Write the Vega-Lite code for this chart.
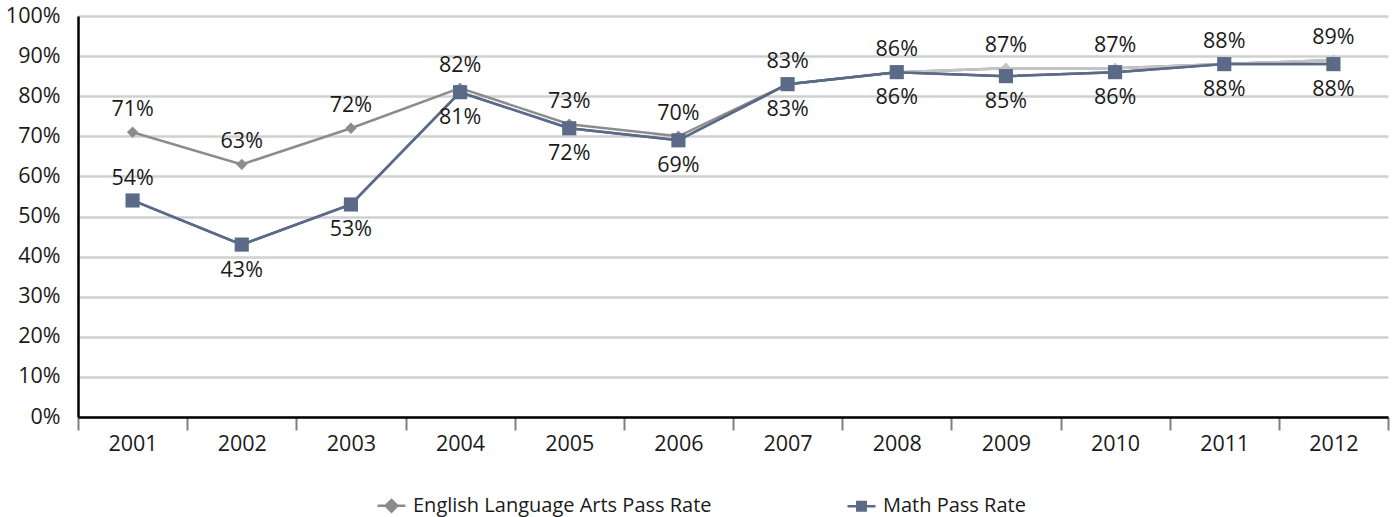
{
  "$schema": "https://vega.github.io/schema/vega-lite/v6.json",
  "width": 1310,
  "height": 401,
  "autosize": {"type": "none"},
  "padding": {"left": 78, "top": 16, "right": 10, "bottom": 100},
  "background": "white",
  "config": {
    "view": {"stroke": null},
    "font": "Open Sans",
    "axis": {"labelFont": "Open Sans", "labelFontSize": 21.5, "labelColor": "#1a1a1a", "title": null}
  },
  "data": {
    "values": [
      {"year": "2001", "series": "English Language Arts Pass Rate", "rate": 0.71},
      {"year": "2002", "series": "English Language Arts Pass Rate", "rate": 0.63},
      {"year": "2003", "series": "English Language Arts Pass Rate", "rate": 0.72},
      {"year": "2004", "series": "English Language Arts Pass Rate", "rate": 0.82},
      {"year": "2005", "series": "English Language Arts Pass Rate", "rate": 0.73},
      {"year": "2006", "series": "English Language Arts Pass Rate", "rate": 0.70},
      {"year": "2007", "series": "English Language Arts Pass Rate", "rate": 0.83},
      {"year": "2008", "series": "English Language Arts Pass Rate", "rate": 0.86},
      {"year": "2009", "series": "English Language Arts Pass Rate", "rate": 0.87},
      {"year": "2010", "series": "English Language Arts Pass Rate", "rate": 0.87},
      {"year": "2011", "series": "English Language Arts Pass Rate", "rate": 0.88},
      {"year": "2012", "series": "English Language Arts Pass Rate", "rate": 0.89},
      {"year": "2001", "series": "Math Pass Rate", "rate": 0.54},
      {"year": "2002", "series": "Math Pass Rate", "rate": 0.43},
      {"year": "2003", "series": "Math Pass Rate", "rate": 0.53},
      {"year": "2004", "series": "Math Pass Rate", "rate": 0.81},
      {"year": "2005", "series": "Math Pass Rate", "rate": 0.72},
      {"year": "2006", "series": "Math Pass Rate", "rate": 0.69},
      {"year": "2007", "series": "Math Pass Rate", "rate": 0.83},
      {"year": "2008", "series": "Math Pass Rate", "rate": 0.86},
      {"year": "2009", "series": "Math Pass Rate", "rate": 0.85},
      {"year": "2010", "series": "Math Pass Rate", "rate": 0.86},
      {"year": "2011", "series": "Math Pass Rate", "rate": 0.88},
      {"year": "2012", "series": "Math Pass Rate", "rate": 0.88}
    ]
  },
  "encoding": {
    "x": {
      "field": "year", "type": "ordinal",
      "scale": {"paddingInner": 0, "paddingOuter": 0},
      "axis": {
        "labelAngle": 0, "tickBand": "extent", "domainColor": "#000000", "domainWidth": 2.5,
        "tickColor": "#7f7f7f", "tickWidth": 2, "tickSize": 13, "labelPadding": 3, "grid": false
      }
    },
    "y": {
      "field": "rate", "type": "quantitative",
      "scale": {"domain": [0, 1], "nice": false},
      "axis": {
        "format": ".0%", "values": [0, 0.1, 0.2, 0.3, 0.4, 0.5, 0.6, 0.7, 0.8, 0.9, 1],
        "labelOverlap": false,
        "grid": true, "gridColor": "#d0d0d0", "gridWidth": 2.5, "ticks": false,
        "domainColor": "#000000", "domainWidth": 2.5, "labelPadding": 18
      }
    }
  },
  "layer": [
    {
      "mark": {"type": "line", "strokeWidth": 2.5},
      "encoding": {
        "color": {
          "field": "series", "type": "nominal",
          "scale": {"domain": ["English Language Arts Pass Rate", "Math Pass Rate"], "range": ["#8c8c8c", "#5a6a87"]},
          "legend": {
            "title": null, "orient": "none", "legendX": 298, "legendY": 474, "direction": "horizontal", "columns": 2,
            "columnPadding": 130, "labelFont": "Open Sans", "labelFontSize": 20, "labelColor": "#1a1a1a", "labelLimit": 600,
            "symbolSize": 784, "labelOffset": 6, "symbolStrokeWidth": 2.5, "symbolOpacity": 1,
            "encode": {
              "symbols": {
                "update": {
                  "shape": {"signal": "datum.value === 'Math Pass Rate' ? 'M-1,0L1,0M-0.3,-0.3L0.3,-0.3L0.3,0.3L-0.3,0.3Z' : 'M-1,0L1,0M0,-0.42L0.42,0L0,0.42L-0.42,0Z'"},
                  "fill": {"signal": "datum.value === 'Math Pass Rate' ? '#5a6a87' : '#8c8c8c'"},
                  "stroke": {"signal": "datum.value === 'Math Pass Rate' ? '#5a6a87' : '#8c8c8c'"},
                  "strokeWidth": {"value": 2.5},
                  "opacity": {"value": 1}
                }
              }
            }
          }
        }
      }
    },
    {
      "transform": [{"filter": "datum.series === 'English Language Arts Pass Rate' && datum.year >= '2008'"}],
      "mark": {"type": "line", "strokeWidth": 2.5, "color": "#c4c4c4"},
      "encoding": {}
    },
    {
      "transform": [{"filter": "datum.series === 'English Language Arts Pass Rate'"}],
      "mark": {"type": "point", "shape": "diamond", "filled": true, "opacity": 1, "size": 130},
      "encoding": {
        "color": {
          "condition": {"test": "datum.year >= '2008'", "value": "#c4c4c4"},
          "value": "#8c8c8c"
        }
      }
    },
    {
      "transform": [{"filter": "datum.series === 'Math Pass Rate'"}],
      "mark": {"type": "line", "strokeWidth": 2.5, "color": "#5a6a87"},
      "encoding": {}
    },
    {
      "transform": [{"filter": "datum.series === 'Math Pass Rate'"}],
      "mark": {"type": "point", "shape": "square", "filled": true, "opacity": 1, "size": 200, "color": "#5a6a87"},
      "encoding": {}
    },
    {
      "transform": [{"filter": "datum.series === 'English Language Arts Pass Rate'"}],
      "mark": {"type": "text", "dy": -22, "fontSize": 21.5, "color": "#1a1a1a", "font": "Open Sans"},
      "encoding": {"text": {"field": "rate", "type": "quantitative", "format": ".0%"}}
    },
    {
      "transform": [{"filter": "datum.series === 'Math Pass Rate' && datum.year !== '2001'"}],
      "mark": {"type": "text", "dy": 26, "fontSize": 21.5, "color": "#1a1a1a", "font": "Open Sans"},
      "encoding": {"text": {"field": "rate", "type": "quantitative", "format": ".0%"}}
    },
    {
      "transform": [{"filter": "datum.series === 'Math Pass Rate' && datum.year === '2001'"}],
      "mark": {"type": "text", "dy": -21, "fontSize": 21.5, "color": "#1a1a1a", "font": "Open Sans"},
      "encoding": {"text": {"field": "rate", "type": "quantitative", "format": ".0%"}}
    }
  ]
}
